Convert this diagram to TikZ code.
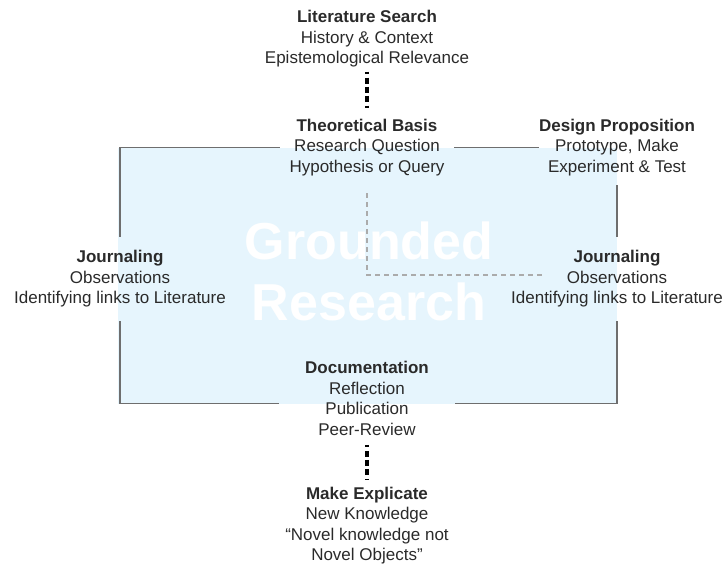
\documentclass[tikz,border=0pt]{standalone}
\usepackage{fontspec}
\setmainfont{Liberation Sans}
\definecolor{boxblue}{HTML}{E6F5FD}
\definecolor{txtgray}{HTML}{2A2A2A}
\definecolor{linegray}{HTML}{6E6E6E}
\definecolor{guidegray}{HTML}{ABABAB}
\begin{document}
\begin{tikzpicture}[x=1pt,y=-1pt,
            phase/.style={align=center,inner sep=0pt,text=txtgray,font=\fontsize{17}{20.5}\selectfont},
            side/.style={phase,minimum height=84pt},
            rim/.style={draw=linegray,line width=1.6pt},
            guide/.style={draw=guidegray,line width=1.4pt,dash pattern=on 5pt off 4pt},
            dotlink/.style={draw=black,line width=3.2pt,dash pattern=on 2pt off 4pt on 6pt off 3pt on 6pt off 3pt on 6pt off 4pt on 2pt off 10pt},
            bigword/.style={align=center,inner sep=0pt,text=white,font=\bfseries\fontsize{52}{61}\selectfont}]
            \useasboundingbox (0,0) rectangle (724,567);
            \fill[boxblue] (118,148) rectangle (617,404);
            \node[bigword] (gr) at (369,271.5) {Grounded\\Research};
            % stages of the cycle
            \node[phase] (lit) at (367,39) {\textbf{Literature Search}\\History \& Context\\Epistemological Relevance};
            \node[phase,minimum width=174pt] (theo) at (367,147.6) {\textbf{Theoretical Basis}\\Research Question\\Hypothesis or Query};
            \node[phase,minimum width=152pt,minimum height=75pt] (design) at (617,147.6) {\textbf{Design Proposition}\\Prototype, Make\\Experiment \& Test};
            \node[side] (jl) at (120,279) {\textbf{Journaling}\\Observations\\Identifying links to Literature};
            \node[side] (jr) at (617,279) {\textbf{Journaling}\\Observations\\Identifying links to Literature};
            \node[phase,minimum width=176pt] (doc) at (367,398.6) {\textbf{Documentation}\\Reflection\\Publication\\Peer-Review};
            \node[phase] (make) at (367,525.8) {\textbf{Make Explicate}\\New Knowledge\\“Novel knowledge not\\Novel Objects”};
            \coordinate (obs) at (543,275);
            % links
            \draw[rim] (theo.west) -| (jl.north);
            \draw[rim] (theo.east) -- (design.west);
            \draw[rim] (design.south) -- (jr.north);
            \draw[rim] (jl.south) |- ([yshift=-5pt]doc.west);
            \draw[rim] ([yshift=-5pt]doc.east) -| (jr.south);
            \draw[guide,shorten <=17pt] (theo.south) |- (obs);
            \draw[dotlink,shorten <=4pt,shorten >=11pt] (lit.south) -- (theo.north);
            \draw[dotlink,shorten <=9pt,shorten >=7pt] (doc.south) -- (make.north);
\end{tikzpicture}
\end{document}
